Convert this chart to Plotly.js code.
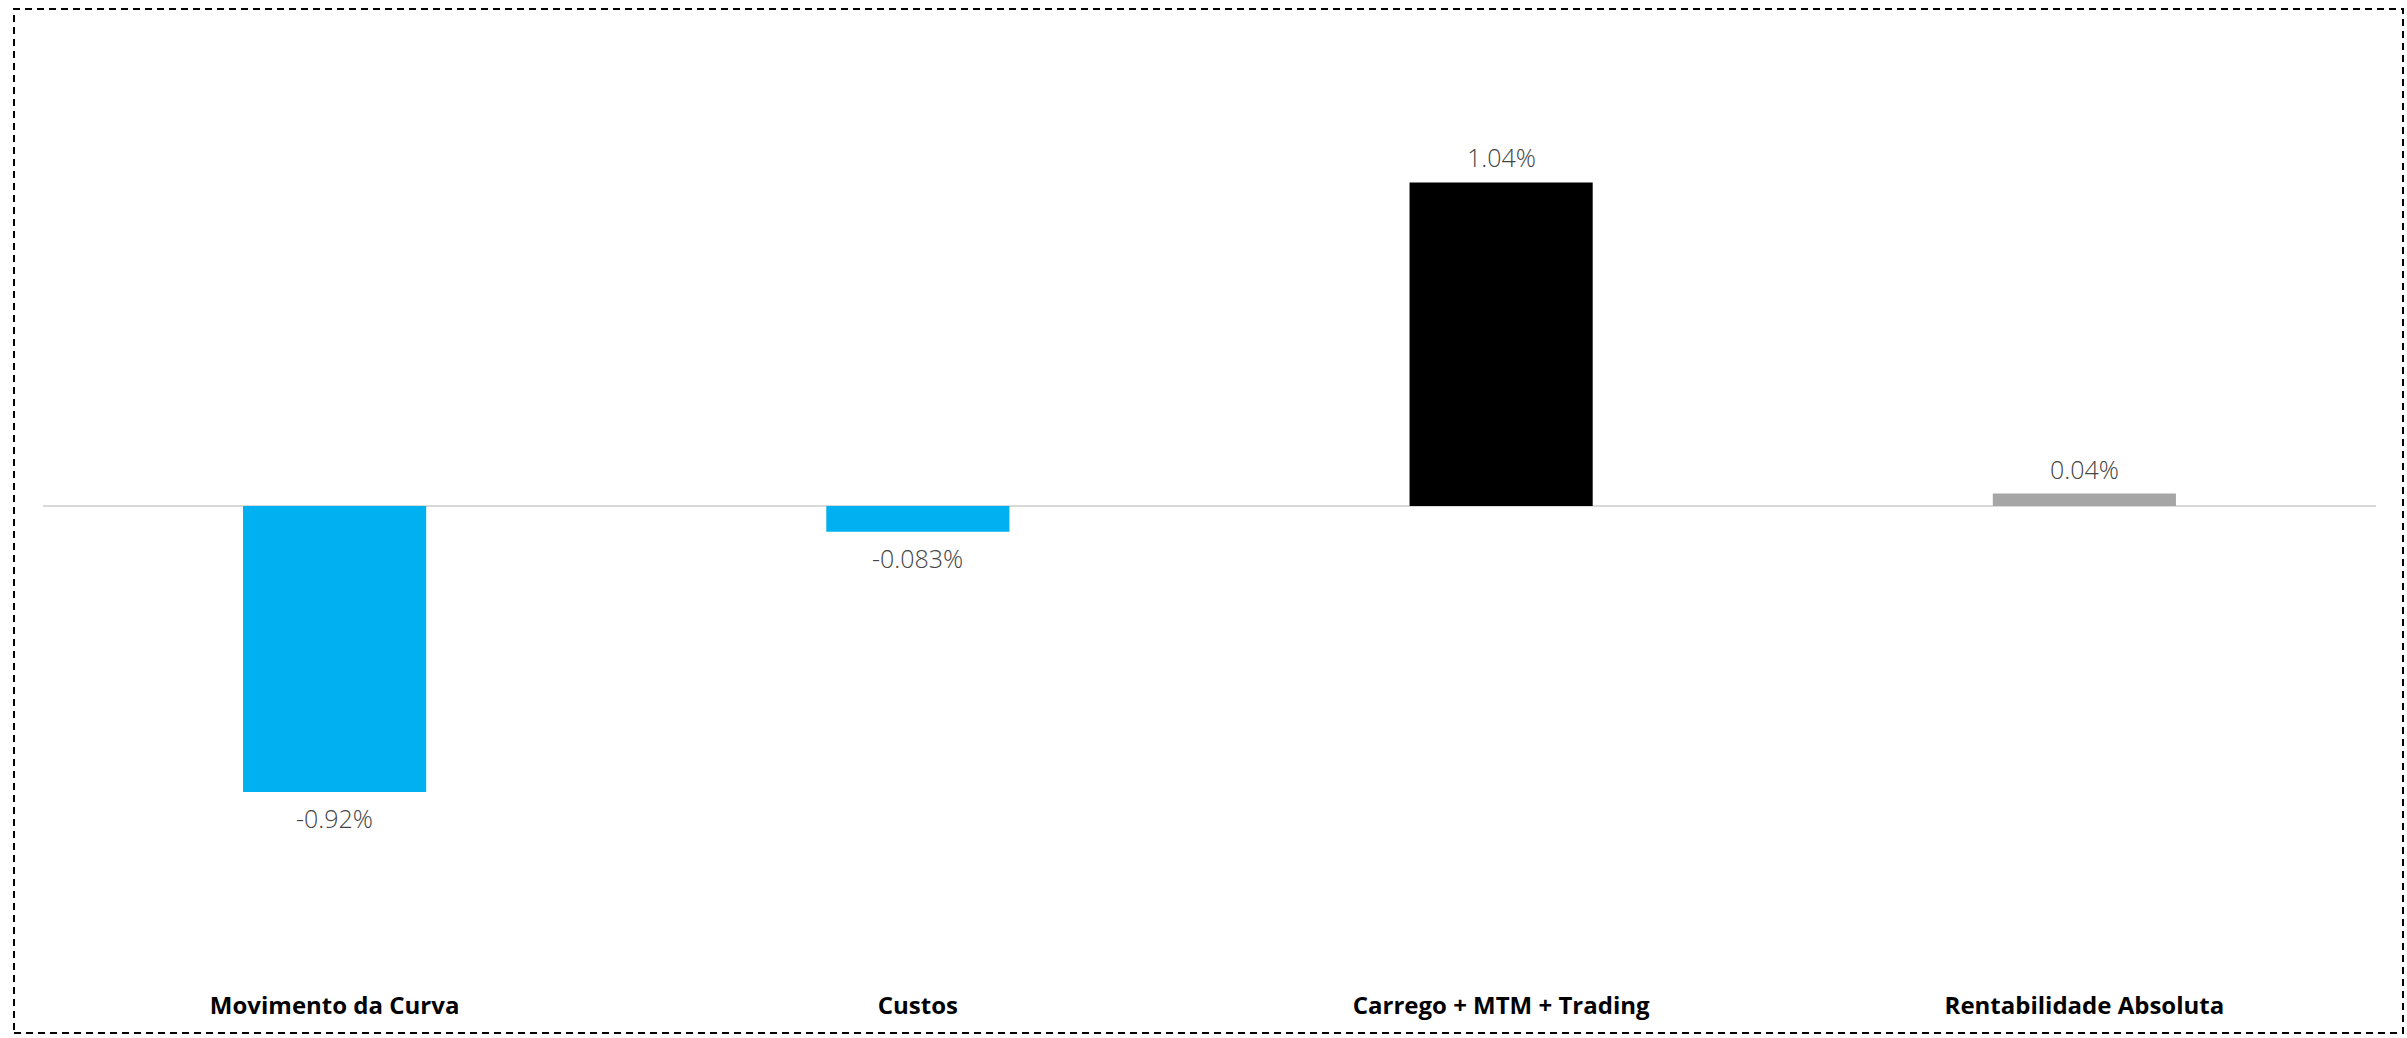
<!DOCTYPE html>
<html>
<head>
<meta charset="utf-8">
<script src="https://cdn.plot.ly/plotly-3.0.1.min.js"></script>
<style>
  html, body { margin: 0; padding: 0; background: #ffffff; }
  #chart { width: 2407px; height: 1038px; }
</style>
</head>
<body>
<div id="chart"></div>
<script>
// Data
const categories = ["Movimento da Curva", "Custos", "Carrego + MTM + Trading", "Rentabilidade Absoluta"];
const values = [-0.92, -0.083, 1.04, 0.04];
const valueLabels = ["-0.92%", "-0.083%", "1.04%", "0.04%"];
const barColors = ["#00B0F0", "#00B0F0", "#000000", "#A6A6A6"];

const W = 2407, H = 1038;
const margin = {l: 43, r: 31, t: 40, b: 49};
const plotW = W - margin.l - margin.r;
const plotH = H - margin.t - margin.b;

const trace = {
  type: "bar",
  x: categories,
  y: values,
  marker: {color: barColors, line: {width: 0}},
  hoverinfo: "none"
};

const annotations = categories.map((c, i) => ({
  x: c,
  y: values[i],
  xref: "x",
  yref: "y",
  text: valueLabels[i],
  showarrow: false,
  yanchor: "middle",
  xanchor: "center",
  yshift: values[i] >= 0 ? 25 : -26,
  font: {family: "Open Sans, sans-serif", size: 25, color: "#454545", weight: 300}
}));

// dashed border around the whole figure (paper coordinates)
const px2x = p => (p - margin.l) / plotW;
const px2y = p => 1 - (p - margin.t) / plotH;
const shapes = [{
  type: "rect",
  xref: "paper", yref: "paper",
  x0: px2x(14), x1: px2x(2403),
  y0: px2y(1033), y1: px2y(9),
  line: {color: "#000000", width: 2, dash: "7px,5px"},
  fillcolor: "rgba(0,0,0,0)",
  layer: "above"
}];

const layout = {
  width: W,
  height: H,
  margin: margin,
  paper_bgcolor: "#ffffff",
  plot_bgcolor: "#ffffff",
  showlegend: false,
  bargap: 0.686,
  font: {family: "Open Sans, sans-serif"},
  xaxis: {
    type: "category",
    showgrid: false,
    showline: false,
    zeroline: false,
    ticks: "",
    tickfont: {family: "Open Sans, sans-serif", size: 24, color: "#000000", weight: 700},
    fixedrange: true
  },
  yaxis: {
    range: [-1.553, 1.498],
    showgrid: false,
    showline: false,
    showticklabels: false,
    ticks: "",
    zeroline: true,
    zerolinecolor: "#D9D9D9",
    zerolinewidth: 2,
    fixedrange: true
  },
  annotations: annotations,
  shapes: shapes
};

Plotly.newPlot("chart", [trace], layout, {displayModeBar: false, staticPlot: true});
</script>
</body>
</html>
